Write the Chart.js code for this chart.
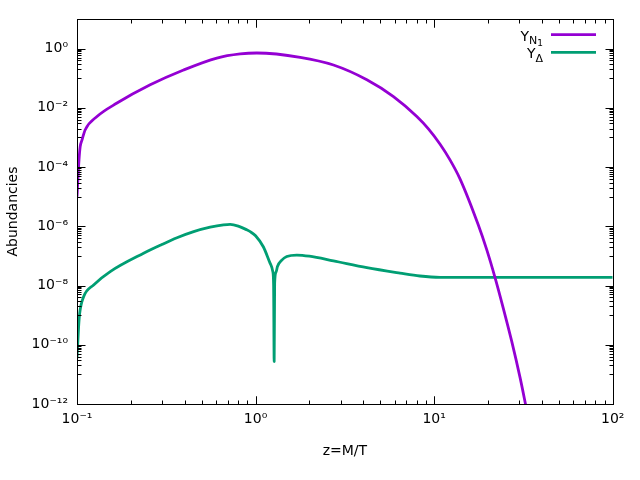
<!DOCTYPE html>
<html>
<head>
<meta charset="utf-8">
<title>Abundancies</title>
<script src="https://cdn.jsdelivr.net/npm/chart.js@4.4.1/dist/chart.umd.min.js"></script>
<style>
  html, body { margin: 0; padding: 0; background: #fff; }
  canvas { display: block; }
</style>
</head>
<body>
<canvas id="abundChart" width="640" height="480"></canvas>
<script>
// Y_N1 curve (z = M/T, abundance)
const zN1 = [0.1, 0.1026, 0.1042, 0.1067, 0.1112, 0.1294, 0.1675, 0.257, 0.395, 0.607, 0.82, 1.016,
             1.778, 2.73, 4.2, 5.92, 8.0, 9.29, 10.8, 12.27, 13.96, 17.66, 19.68, 21.93, 24.38, 27.16, 30.27, 32.28, 33.9];
const yN1 = [1.0e-5, 1.74e-4, 4.9e-4, 8.3e-4, 1.82e-3, 5.1e-3, 0.0145, 0.060, 0.19, 0.48, 0.66, 0.71,
             0.51, 0.28, 0.089, 0.024, 5.1e-3, 1.95e-3, 5.9e-4, 1.75e-4, 4.0e-5, 1.12e-6, 1.66e-7, 1.86e-8, 1.74e-9, 1.35e-10, 7.9e-12, 1.2e-12, 2.7e-13];

// Y_Delta curve
const zDelta = [0.1, 0.1021, 0.1035, 0.1089, 0.1239, 0.1535, 0.236, 0.295, 0.363, 0.45, 0.557, 0.661, 0.721, 0.8,
                0.893, 0.933, 1.0, 1.107, 1.207, 1.25, 1.262, 1.271, 1.279, 1.304, 1.326, 1.403, 1.496, 1.702,
                2.0, 2.73, 4.2, 6.44, 8.32, 10.8, 15.8, 30, 60, 100];
const yDelta = [3.5e-11, 4.1e-10, 1.15e-9, 4.2e-9, 1.05e-8, 2.95e-8, 1.23e-7, 2.34e-7, 4.1e-7, 6.6e-7, 9.3e-7, 1.12e-6, 1.17e-6, 1.02e-6,
                7.6e-7, 6.6e-7, 4.8e-7, 2.0e-7, 5.6e-8, 2.9e-8, 1.0e-8, 2.7e-11, 1.2e-8, 2.9e-8, 4.4e-8, 7.2e-8, 9.5e-8, 1.07e-7,
                9.8e-8, 6.8e-8, 4.0e-8, 2.63e-8, 2.1e-8, 1.9e-8, 1.9e-8, 1.9e-8, 1.9e-8, 1.9e-8];

const xTicks = [0.1, 1, 10, 100];
const yTicks = [1e-12, 1e-10, 1e-8, 1e-6, 1e-4, 1e-2, 1];

// legend text: base, subscript, sub-subscript
const legendN1 = ['Y', 'N', '1'];
const legendDelta = ['Y', 'Δ'];

const FONT = 'DejaVu Sans';
const SUP = {'-': '⁻', '0': '⁰', '1': '¹', '2': '²', '3': '³', '4': '⁴', '5': '⁵', '6': '⁶', '7': '⁷', '8': '⁸', '9': '⁹'};
function powLabel(v) {
    const e = String(Math.round(Math.log10(v)));
    return '10' + e.split('').map(c => SUP[c]).join('');
}

// gnuplot style frame with inward ticks on all four sides
const frameTicks = {
    id: 'frameTicks',
    afterDatasetsDraw(chart) {
        const { ctx, chartArea: a, scales: { x, y } } = chart;
        const L = Math.round(a.left) + 0.5, R = Math.round(a.right) + 0.5;
        const T = Math.round(a.top) + 0.5, B = Math.round(a.bottom) + 0.5;
        ctx.save();
        ctx.strokeStyle = '#000';
        ctx.lineWidth = 1;
        ctx.beginPath();
        for (let e = -1; e <= 1; e++) {
            for (let k = 1; k <= 10; k++) {
                const px = Math.round(x.getPixelForValue(k * Math.pow(10, e))) + 0.5;
                const len = (k === 1 || k === 10) ? 8 : 4;
                ctx.moveTo(px, B); ctx.lineTo(px, B - len);
                ctx.moveTo(px, T); ctx.lineTo(px, T + len);
            }
        }
        yTicks.forEach(v => {
            const py = Math.round(y.getPixelForValue(v)) + 0.5;
            ctx.moveTo(L, py); ctx.lineTo(L + 8, py);
            ctx.moveTo(R, py); ctx.lineTo(R - 8, py);
        });
        for (let e = -11; e <= 1; e += 2) {
            for (let k = 1; k <= 9; k++) {
                const v = k * Math.pow(10, e);
                if (v > 10.0001) continue;
                const py = Math.round(y.getPixelForValue(v)) + 0.5;
                ctx.moveTo(L, py); ctx.lineTo(L + 4, py);
                ctx.moveTo(R, py); ctx.lineTo(R - 4, py);
            }
        }
        ctx.stroke();
        ctx.strokeRect(L, T, R - L, B - T);
        ctx.restore();
    }
};

// legend drawn with real subscripts, top right inside the frame
const subLegend = {
    id: 'subLegend',
    afterDraw(chart) {
        const ctx = chart.ctx;
        const entries = [legendN1, legendDelta];
        const sizes = [14, 11, 9];
        const drops = [0, 3.5, 5];
        chart.data.datasets.forEach((ds, i) => {
            const ly = 34.7 + i * 17.6;
            ctx.save();
            ctx.strokeStyle = ds.borderColor;
            ctx.lineWidth = 2.8;
            ctx.beginPath();
            ctx.moveTo(551, ly);
            ctx.lineTo(596, ly);
            ctx.stroke();
            const parts = entries[i];
            let w = 0;
            parts.forEach((p, j) => {
                ctx.font = sizes[j] + 'px "' + FONT + '"';
                w += ctx.measureText(p).width;
            });
            let cx = 543 - w;
            ctx.fillStyle = '#000';
            ctx.textBaseline = 'alphabetic';
            parts.forEach((p, j) => {
                ctx.font = sizes[j] + 'px "' + FONT + '"';
                ctx.fillText(p, cx, ly + 6 + drops[j]);
                cx += ctx.measureText(p).width;
            });
            ctx.restore();
        });
    }
};

const ctx = document.getElementById('abundChart').getContext('2d');
new Chart(ctx, {
    type: 'line',
    data: {
        datasets: [{
            label: legendN1.join(''),
            data: zN1.map((z, i) => ({ x: z, y: yN1[i] })),
            borderColor: '#9400d3',
            borderWidth: 2.8,
            pointRadius: 0,
            cubicInterpolationMode: 'monotone',
            borderJoinStyle: 'round',
            fill: false
        }, {
            label: legendDelta.join(''),
            data: zDelta.map((z, i) => ({ x: z, y: yDelta[i] })),
            borderColor: '#009e73',
            borderWidth: 2.8,
            pointRadius: 0,
            cubicInterpolationMode: 'monotone',
            borderJoinStyle: 'round',
            fill: false
        }]
    },
    options: {
        responsive: false,
        animation: false,
        devicePixelRatio: 1,
        layout: { padding: { top: 19, right: 27.3, left: 0, bottom: 0 } },
        plugins: { legend: { display: false }, tooltip: { enabled: false } },
        scales: {
            x: {
                type: 'logarithmic',
                min: 0.1,
                max: 100,
                afterBuildTicks: s => { s.ticks = xTicks.map(v => ({ value: v })); },
                afterFit: s => { s.height = 76; },
                grid: { display: false, drawTicks: false },
                border: { display: false },
                ticks: {
                    padding: 7,
                    maxRotation: 0,
                    autoSkip: false,
                    color: '#000',
                    font: { family: FONT, size: 14 },
                    callback: v => powLabel(v)
                },
                title: {
                    display: true,
                    text: 'z=M/T',
                    color: '#000',
                    font: { family: FONT, size: 14 },
                    padding: { top: 0, bottom: 20.6 }
                }
            },
            y: {
                type: 'logarithmic',
                min: 1e-12,
                max: 10,
                afterBuildTicks: s => { s.ticks = yTicks.map(v => ({ value: v })); },
                afterFit: s => { s.width = 77; },
                grid: { display: false, drawTicks: false },
                border: { display: false },
                ticks: {
                    padding: 9,
                    autoSkip: false,
                    color: '#000',
                    font: { family: FONT, size: 14 },
                    callback: v => powLabel(v)
                },
                title: {
                    display: true,
                    text: 'Abundancies',
                    color: '#000',
                    font: { family: FONT, size: 14 },
                    padding: { top: 5, bottom: 0 }
                }
            }
        }
    },
    plugins: [frameTicks, subLegend]
});
</script>
</body>
</html>
